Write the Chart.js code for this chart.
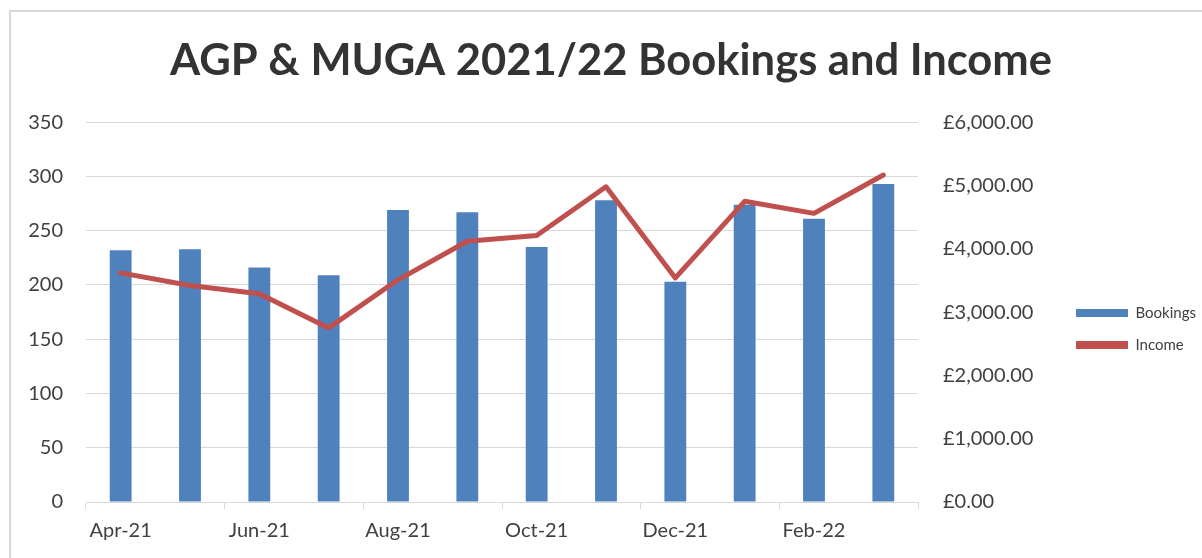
<!DOCTYPE html>
<html>
<head>
<meta charset="utf-8">
<script src="https://cdn.jsdelivr.net/npm/chart.js@4"></script>
<style>
  html, body { margin: 0; padding: 0; background: #fff; overflow: hidden; }
  #frame { position: absolute; left: 9px; top: 10px; width: 1400px; height: 800px;
           border-left: 2px solid #d9d9d9; border-top: 2px solid #d9d9d9; }
  #wrap { position: absolute; left: 0; top: 0; width: 1206px; height: 558px; }
</style>
</head>
<body>
<div id="frame"></div>
<div id="wrap"><canvas id="chart" width="1206" height="558"></canvas></div>
<script>
// ---------- dados ----------
const months = ["Apr-21", "May-21", "Jun-21", "Jul-21", "Aug-21", "Sep-21",
                "Oct-21", "Nov-21", "Dec-21", "Jan-22", "Feb-22", "Mar-22"];
const bookings = [232, 233, 216, 209, 269, 267, 235, 278, 203, 274, 261, 293];
const income = [3620, 3420, 3290, 2750, 3510, 4120, 4210, 4980, 3540, 4750, 4560, 5165];

const bookingsTicks = { min: 0, max: 350, step: 50 };
const incomeTicks = { min: 0, max: 6000, step: 1000 };

// ---------- estilo ----------
const FONT = "Lato, 'Open Sans', sans-serif";
const TEXT = "#404040";
const GRID = "#d9d9d9";

function pounds(v) {
  return "£" + Number(v).toFixed(2).replace(/\B(?=(\d{3})+(?!\d))/g, ",");
}

// desloca o título um pouco para a direita (centro do original fica em ~611px)
const titleShift = {
  id: "titleShift",
  afterLayout(ch) { if (ch.titleBlock) ch.titleBlock.left += 16; }
};

const ctx = document.getElementById("chart").getContext("2d");
const chart = new Chart(ctx, {
  data: {
    labels: months,
    datasets: [
      {
        type: "bar",
        label: "Bookings",
        data: bookings,
        backgroundColor: "#4f81bd",
        barPercentage: 0.315,
        categoryPercentage: 1,
        yAxisID: "y",
        order: 1
      },
      {
        type: "line",
        label: "Income",
        data: income,
        borderColor: "#c0504d",
        backgroundColor: "#c0504d",
        borderWidth: 5,
        pointRadius: 0,
        tension: 0,
        borderCapStyle: "round",
        borderJoinStyle: "round",
        yAxisID: "y1",
        order: 0
      }
    ]
  },
  options: {
    responsive: false,
    animation: false,
    layout: { padding: 0 },
    scales: {
      x: {
        offset: true,
        ticks: {
          autoSkip: false,
          maxRotation: 0,
          color: TEXT,
          font: { family: FONT, size: 20 },
          padding: 10,
          callback: (v, i) => (i % 2 === 0 ? months[i] : "")
        },
        grid: {
          offset: true,
          drawOnChartArea: false,
          tickLength: 7,
          // traço só a cada dois meses, como no original
          color: (c) => (c.index === undefined || c.index % 2 === 0 ? GRID : "rgba(0,0,0,0)")
        },
        border: { display: true, color: GRID, width: 1 },
        afterFit: (s) => { s.height = 56; }
      },
      y: {
        position: "left",
        min: bookingsTicks.min,
        max: bookingsTicks.max,
        ticks: { stepSize: bookingsTicks.step, color: TEXT, font: { family: FONT, size: 20 }, padding: 23 },
        grid: { color: GRID, drawTicks: false },
        border: { display: false },
        afterFit: (s) => { s.width = 86; }
      },
      y1: {
        position: "right",
        min: incomeTicks.min,
        max: incomeTicks.max,
        ticks: { stepSize: incomeTicks.step, color: TEXT, font: { family: FONT, size: 20 }, padding: 25, callback: pounds },
        grid: { drawOnChartArea: false, drawTicks: false },
        border: { display: false },
        afterFit: (s) => { s.width = s.chart.width - s.chart.legend.width - 918; }
      }
    },
    plugins: {
      title: {
        display: true,
        text: "AGP & MUGA 2021/22 Bookings and Income",
        color: "#333333",
        font: { family: FONT, size: 43.5, weight: "bold", lineHeight: 1.2 },
        padding: { top: 35, bottom: 35 }
      },
      legend: {
        position: "right",
        // título vazio só para empurrar a legenda para baixo
        title: { display: true, text: "", font: { size: 10, lineHeight: 1 }, padding: { top: 45, bottom: 45 } },
        labels: {
          color: TEXT,
          font: { family: FONT, size: 15 },
          boxWidth: 52,
          boxHeight: 8,
          padding: 17,
          sort: (a, b) => a.datasetIndex - b.datasetIndex,
          generateLabels: (ch) => {
            const items = Chart.defaults.plugins.legend.labels.generateLabels(ch);
            items.forEach((it) => { it.lineWidth = 0; });
            return items;
          }
        }
      },
      tooltip: { enabled: false }
    }
  },
  plugins: [titleShift]
});
</script>
</body>
</html>
